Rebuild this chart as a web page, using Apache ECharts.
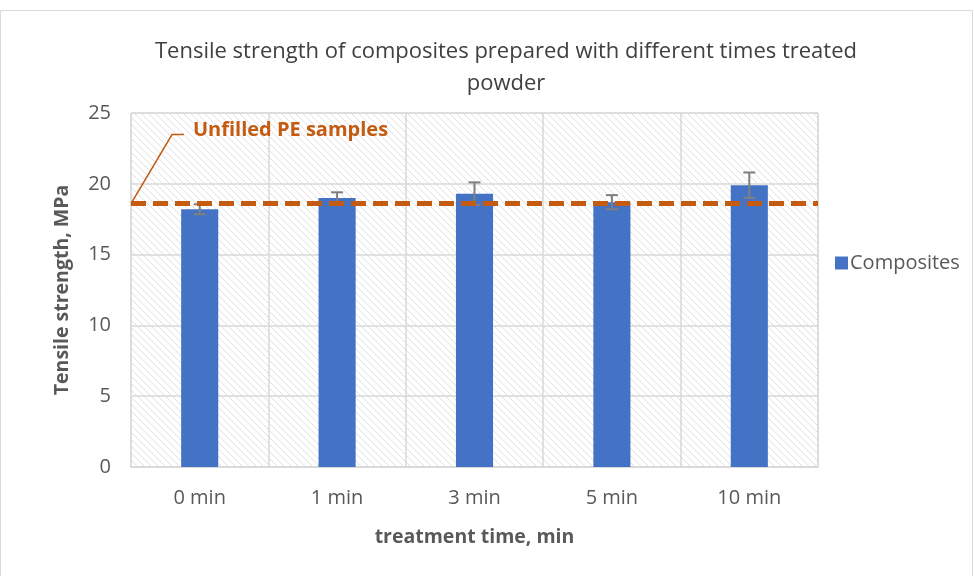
<!DOCTYPE html>
<html><head><meta charset="utf-8">
<script src="https://cdn.jsdelivr.net/npm/echarts@6/dist/echarts.min.js"></script>
<style>html,body{margin:0;padding:0;background:#fff}#c{width:974px;height:576px}</style>
</head><body><div id="c"></div>
<script>
const categories = ['0 min','1 min','3 min','5 min','10 min'];
const values = [18.2, 19.0, 19.3, 18.7, 19.9];
const errors = [0.35, 0.4, 0.8, 0.5, 0.9];
const referenceValue = 18.6;
const yTicks = [0,5,10,15,20,25];

const FONT = "'Open Sans', 'Liberation Sans', sans-serif";

// hatch pattern
const P = 7;
const pc = document.createElement('canvas');
pc.width = P; pc.height = P;
const g = pc.getContext('2d');
g.fillStyle = '#fff'; g.fillRect(0,0,P,P);
g.strokeStyle = '#e0e0e0'; g.lineWidth = 1;
g.beginPath();
g.moveTo(-1,-1); g.lineTo(P+1,P+1);
g.moveTo(-1,P-1); g.lineTo(1,P+1);
g.moveTo(P-1,-1); g.lineTo(P+1,1);
g.stroke();

const chart = echarts.init(document.getElementById('c'), null, {renderer:'canvas'});
const option = {
  animation: false,
  backgroundColor: '#fff',
  title: {
    text: 'Tensile strength of composites prepared with different times treated\npowder',
    left: 501, top: 31, textAlign: 'center',
    textStyle: {fontFamily: FONT, fontSize: 22, fontWeight: 'normal', color: '#404040', lineHeight: 32}
  },
  grid: {left: 131, right: 156, top: 113, bottom: 109, show: true,
    backgroundColor: {image: pc, repeat: 'repeat'}, borderColor: '#d9d9d9', borderWidth: 1},
  legend: {
    left: 830, top: 248, icon: 'rect', itemWidth: 13, itemHeight: 13, itemGap: 4,
    textStyle: {fontFamily: FONT, fontSize: 20, color: '#595959', padding:[0,0,0,-3]},
    data: ['Composites']
  },
  xAxis: {
    type: 'category', data: categories,
    name: 'treatment time, min', nameLocation: 'middle', nameGap: 60,
    nameTextStyle: {fontFamily: FONT, fontSize: 19.5, fontWeight: 'bold', color: '#595959'},
    axisLine: {show: true, lineStyle: {color: '#d9d9d9', width: 1.5}},
    axisTick: {show: false},
    axisLabel: {fontFamily: FONT, fontSize: 20, color: '#595959', margin: 21},
    splitLine: {show: true, interval: 0, lineStyle: {color: '#d9d9d9', width: 1.5}}
  },
  yAxis: {
    type: 'value', min: 0, max: 25, interval: 5,
    name: 'Tensile strength, MPa', nameLocation: 'middle', nameGap: 59,
    nameTextStyle: {fontFamily: FONT, fontSize: 19.5, fontWeight: 'bold', color: '#595959'},
    axisLine: {show: false}, axisTick: {show: false},
    axisLabel: {fontFamily: FONT, fontSize: 20, color: '#595959', margin: 20,
      formatter: v => yTicks.includes(v) ? String(v) : ''},
    splitLine: {lineStyle: {color: '#d9d9d9', width: 1.5}}
  },
  series: [
    {
      name: 'Composites', type: 'bar', data: values, barWidth: '27%',
      itemStyle: {color: '#4472C4'}, z: 2,
      markLine: {
        silent: true, symbol: ['none','none'], z: 5,
        label: {show: false},
        lineStyle: {color: '#C55A11', type: [15, 7], width: 5},
        data: [{yAxis: referenceValue}]
      }
    },
    {
      name: 'err', type: 'custom', z: 3,
      data: values.map((v,i) => [i, v - errors[i], v + errors[i]]),
      renderItem: (params, api) => {
        const lo = api.coord([api.value(0), api.value(1)]);
        const hi = api.coord([api.value(0), api.value(2)]);
        const hw = 6;
        const st = {stroke: '#7f7f7f', lineWidth: 2};
        return {type: 'group', children: [
          {type:'line', shape:{x1:lo[0], y1:lo[1], x2:hi[0], y2:hi[1]}, style: st},
          {type:'line', shape:{x1:lo[0]-hw, y1:lo[1], x2:lo[0]+hw, y2:lo[1]}, style: st},
          {type:'line', shape:{x1:hi[0]-hw, y1:hi[1], x2:hi[0]+hw, y2:hi[1]}, style: st}
        ]};
      }
    }
  ]
};
chart.setOption(option);

const y0 = chart.convertToPixel({yAxisIndex: 0}, referenceValue);
const gx = 131;
chart.setOption({
  graphic: [
    {type: 'rect', shape: {x: 0.5, y: 10.5, width: 972, height: 570}, style: {fill: 'none', stroke: '#d9d9d9', lineWidth: 1}, silent: true},
    {type: 'polyline', z: 10, shape: {points: [[gx, y0], [gx + 41, y0 - 69], [gx + 53, y0 - 69]]},
      style: {stroke: '#C55A11', lineWidth: 1.5, fill: 'none'}},
    {type: 'text', z: 10, left: gx + 62, top: y0 - 83,
      style: {text: 'Unfilled PE samples', fontFamily: FONT, fontSize: 20, fontWeight: 'bold', fill: '#C55A11'}}
  ]
});
</script></body></html>
